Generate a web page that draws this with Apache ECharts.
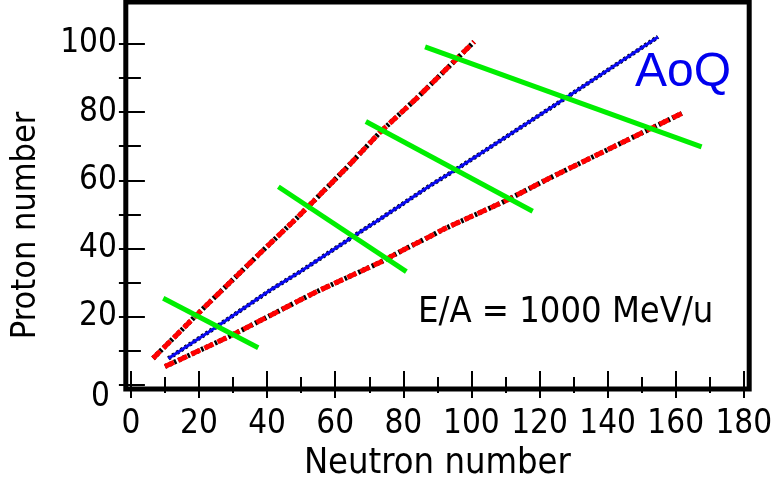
<!DOCTYPE html>
<html>
<head>
<meta charset="utf-8">
<script src="https://cdn.jsdelivr.net/npm/echarts@6/dist/echarts.min.js"></script>
<style>
  html, body { margin: 0; padding: 0; background: #fff; }
  #chart { width: 774px; height: 486px; }
</style>
</head>
<body>
<div id="chart"></div>
<script>
// Neutron number (N) vs proton number (Z) for the fitted limits and the A/Q line
const upperLimit = [[6.5, 7.8], [20.8, 22.0], [37.9, 38.6], [48.7, 48.9], [62.9, 63.2], [73.1, 74.0], [83.9, 84.0], [100.8, 100.6]];
const lowerLimit = [[10.0, 5.4], [29.5, 14.5], [49.7, 24.9], [55.5, 27.8], [73.1, 35.9], [81.0, 40.1], [87.8, 43.5], [91.7, 45.6], [109.9, 53.9], [123.1, 60.7], [161.8, 79.6]];
const aoqLine = [[11.0, 7.8], [25.2, 17.1], [41.4, 28.1], [49.7, 33.2], [66.3, 44.2], [73.1, 48.6], [87.8, 58.4], [95.7, 63.3], [123.1, 81.1], [154.8, 102.0]];
// Cross lines
const cross1 = [[9.5, 25.4], [37.4, 10.9]];
const cross2 = [[43.3, 58.1], [80.9, 33.2]];
const cross3 = [[69.0, 77.2], [118.0, 50.9]];
const cross4 = [[86.4, 99.1], [167.6, 69.8]];

const xTicks = { min: 0, max: 180, step: 20 };
const yTicks = { min: 0, max: 100, step: 20 };

const labelFont = '"DejaVu Sans Condensed", "DejaVu Sans", sans-serif';

const chart = echarts.init(document.getElementById('chart'), null, { renderer: 'canvas' });

function dotted(data, width) {
  return {
    type: 'line', data: data, showSymbol: false, clip: false, silent: true, z: 2,
    lineStyle: { color: '#000', width: width, type: [2.5, 2.5] }
  };
}
function dashedRed(data) {
  return {
    type: 'line', data: data, showSymbol: false, clip: false, silent: true, z: 3,
    lineStyle: { color: '#ff0000', width: 5, type: [10, 4.5] }
  };
}
function greenLine(data) {
  return {
    type: 'line', data: data, showSymbol: false, clip: false, silent: true, z: 4,
    lineStyle: { color: '#00ee00', width: 5, cap: 'butt' }
  };
}

chart.setOption({
  animation: false,
  backgroundColor: '#fff',
  grid: { left: 130.9, right: 30.2, top: 43.75, bottom: 101, containLabel: false, outerBoundsMode: 'none' },
  xAxis: [{
    type: 'value', position: 'bottom', min: xTicks.min, max: xTicks.max, interval: xTicks.step, offset: 4,
    axisLine: { show: false },
    axisTick: { inside: true, length: 14, lineStyle: { color: '#000', width: 2 } },
    minorTick: { show: true, splitNumber: 2, length: 8, lineStyle: { color: '#000', width: 2 } },
    splitLine: { show: false },
    axisLabel: { fontSize: 33, color: '#000', fontFamily: labelFont, margin: 19 },
    name: 'Neutron number', nameLocation: 'middle', nameGap: 53,
    nameTextStyle: { fontSize: 36, color: '#000', fontFamily: labelFont }
  }, {
    type: 'value', position: 'top', min: xTicks.min, max: xTicks.max, interval: xTicks.step, offset: 41.75,
    axisLine: { show: false },
    axisTick: { inside: true, length: 13, lineStyle: { color: '#000', width: 2 } },
    minorTick: { show: true, splitNumber: 2, length: 8, lineStyle: { color: '#000', width: 2 } },
    splitLine: { show: false },
    axisLabel: { show: false }
  }],
  yAxis: [{
    type: 'value', position: 'left', min: yTicks.min, max: yTicks.max, interval: yTicks.step, offset: 5.1,
    axisLine: { show: false },
    axisTick: { inside: true, length: 14, lineStyle: { color: '#000', width: 2 } },
    minorTick: { show: true, splitNumber: 2, length: 10, lineStyle: { color: '#000', width: 2 } },
    splitLine: { show: false },
    axisLabel: {
      fontSize: 33, color: '#000', fontFamily: labelFont, margin: 9,
      formatter: function (v) { return v === 0 ? '{z|0}' : String(v); },
      rich: { z: { fontSize: 33, color: '#000', fontFamily: labelFont, padding: [24, 7, 0, 0] } }
    },
    name: 'Proton number', nameLocation: 'middle', nameGap: 83,
    nameTextStyle: { fontSize: 34, color: '#000', fontFamily: labelFont, padding: [0, 22, 0, 0] }
  }, {
    type: 'value', position: 'right', min: yTicks.min, max: yTicks.max, interval: 10, offset: 5.4,
    axisLine: { show: false },
    axisTick: { inside: true, length: 12, lineStyle: { color: '#000', width: 2 } },
    splitLine: { show: false },
    axisLabel: { show: false }
  }],
  series: [
    dotted(upperLimit, 5), dashedRed(upperLimit),
    dotted(lowerLimit, 5), dashedRed(lowerLimit),
    dotted(aoqLine, 4.5),
    {
      type: 'line', data: aoqLine, showSymbol: false, clip: false, silent: true, z: 3,
      lineStyle: { color: '#0808f0', width: 3 }
    },
    greenLine(cross1), greenLine(cross2), greenLine(cross3), greenLine(cross4)
  ],
  graphic: [
    {
      type: 'rect', z: 10, silent: true,
      shape: { x: 125.8, y: 2, width: 623.4, height: 387 },
      style: { fill: 'none', stroke: '#000', lineWidth: 5 }
    },
    {
      type: 'text', z: 10, silent: true,
      style: { x: 635, y: 73, text: 'AoQ', fill: '#0000ee', font: '48px "Liberation Sans", Arial, sans-serif', align: 'left', verticalAlign: 'middle' }
    },
    {
      type: 'text', z: 10, silent: true,
      style: { x: 418, y: 313, text: 'E/A = 1000 MeV/u', fill: '#000', font: '36px ' + labelFont, align: 'left', verticalAlign: 'middle' }
    }
  ]
});
</script>
</body>
</html>
